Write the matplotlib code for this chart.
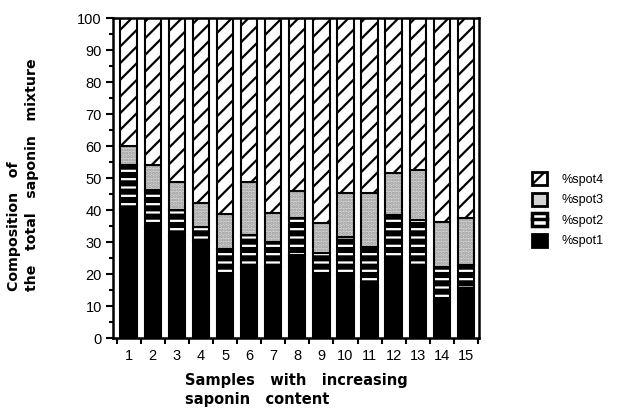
import numpy as np
import matplotlib.pyplot as plt
from matplotlib.patches import Patch
from matplotlib.lines import Line2D
from matplotlib.legend_handler import HandlerTuple

plt.rcParams['font.family'] = ['Liberation Sans', 'DejaVu Sans']
plt.rcParams['hatch.linewidth'] = 1.6

samples = list(range(1, 16))
spot1 = [40.5, 34.3, 32.2, 30.3, 19.7, 22.0, 22.3, 26.0, 19.7, 19.7, 16.0, 23.8, 22.3, 11.4, 15.6]
spot2 = [13.5, 11.9, 7.8, 4.5, 8.1, 10.2, 7.7, 11.5, 6.8, 11.8, 12.5, 14.6, 14.6, 10.9, 7.2]
spot3 = [6.0, 7.8, 8.9, 7.5, 10.9, 16.7, 9.0, 8.5, 9.5, 13.7, 16.7, 13.1, 15.6, 14.1, 14.6]
spot4 = [40.0, 46.0, 51.1, 57.7, 61.3, 51.1, 61.0, 54.0, 64.0, 54.8, 54.8, 48.5, 47.5, 63.6, 62.6]

fig = plt.figure(figsize=(6.19, 4.11), dpi=100)
ax = fig.add_axes([0.1826, 0.1776, 0.5915, 0.7786])

x = np.array(samples)
w = 0.68
s1 = np.array(spot1)
s2 = np.array(spot2)
s3 = np.array(spot3)
s4 = np.array(spot4)

# spot1 solid black
ax.bar(x, s1, w, color='black', edgecolor='black', linewidth=1.5)
# spot2 white stripes on black
ax.bar(x, s2, w, bottom=s1, facecolor='black', edgecolor='white', hatch='--', linewidth=0)
ax.bar(x, s2, w, bottom=s1, fill=False, edgecolor='black', linewidth=1.5)
# spot3 stipple
ax.bar(x, s3, w, bottom=s1 + s2, facecolor='#d4d4d4', edgecolor='#9a9a9a', hatch='.....', linewidth=0)
ax.bar(x, s3, w, bottom=s1 + s2, fill=False, edgecolor='black', linewidth=1.5)
# spot4 diagonal lines
ax.bar(x, s4, w, bottom=s1 + s2 + s3, facecolor='white', edgecolor='black', hatch='//', linewidth=1.5)

ax.set_xlim(0.35, 15.55)
ax.set_ylim(0, 100)
ax.set_yticks(range(0, 101, 10))
ax.set_yticks(range(0, 101, 5), minor=True)
ax.set_xticks(x)
ax.set_xticklabels([str(s) for s in samples])
ax.set_xticks(np.arange(0.5, 16, 1), minor=True)
ax.tick_params(axis='x', which='major', length=0, labelsize=10.5, pad=8)
ax.tick_params(axis='x', which='minor', length=4, width=1.5, direction='out')
ax.tick_params(axis='y', which='major', length=5, width=1.5, labelsize=10.5, pad=3)
ax.tick_params(axis='y', which='minor', length=3, width=1.5)
for sp in ax.spines.values():
    sp.set_linewidth(1.8)

fig.text(185 / 619, 1 - 390 / 411, 'Samples   with   increasing\nsaponin   content',
         fontsize=10.5, fontweight='bold', family='DejaVu Sans', ha='left', va='center',
         linespacing=1.35)
fig.text(23 / 619, 1 - 291 / 411, 'Composition   of\nthe   total   saponin   mixture',
         fontsize=10.2, fontweight='bold', family='DejaVu Sans', rotation=90,
         ha='center', va='bottom', multialignment='left', linespacing=1.4)

h4 = Patch(facecolor='white', edgecolor='black', hatch='//', linewidth=2)
h3 = Patch(facecolor='#d4d4d4', edgecolor='black', linewidth=2)
h2 = (Patch(facecolor='white', edgecolor='black', linewidth=2.5),
      Line2D([], [], color='black', linewidth=2.5))
h1 = Patch(facecolor='black', edgecolor='black', linewidth=2)
fig.legend([h4, h3, h2, h1], ['%spot4', '%spot3', '%spot2', '%spot1'],
           handler_map={tuple: HandlerTuple(ndivide=1, pad=0)},
           loc='upper left', bbox_to_anchor=(521 / 619, 1 - 161 / 411),
           frameon=False, fontsize=9, handlelength=1.2, handleheight=1.2,
           labelspacing=0.55, handletextpad=1.1)

fig.savefig('out.png', dpi=100)
